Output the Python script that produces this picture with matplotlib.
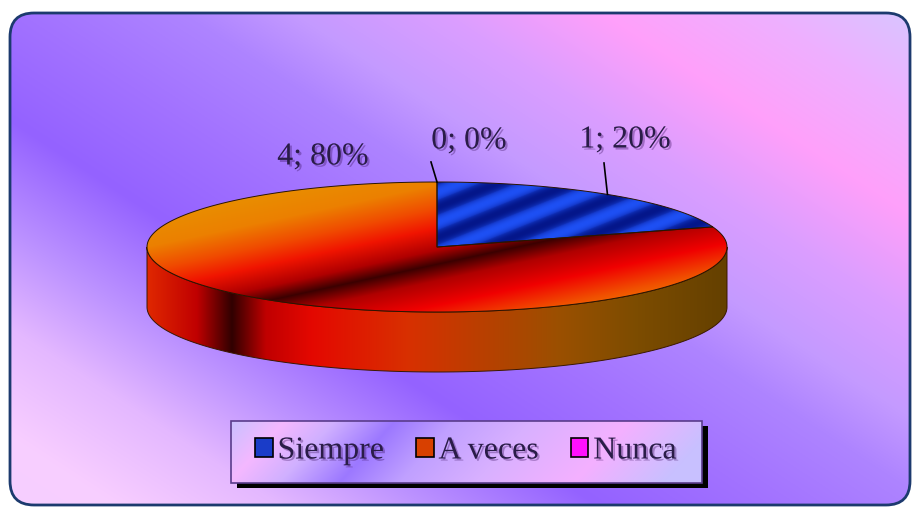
import numpy as np
import matplotlib
matplotlib.use("Agg")
import matplotlib.pyplot as plt
from matplotlib.patches import FancyBboxPatch, Polygon, Rectangle, Patch
import matplotlib.colors as mcolors
import matplotlib.patheffects as pe

# data
categories = ["Siempre", "A veces", "Nunca"]
values = [1, 4, 0]
legend_colors = ["#1a3cc8", "#d84000", "#ff10ff"]

W, H = 915, 509                                    # canvas in pixels
cx, cy, rx, ry, depth = 437, 247, 290, 65, 60      # pie ellipse geometry
serif = ["Liberation Serif", "DejaVu Serif"]

X, Y = np.meshgrid(np.arange(W) + 0.5, np.arange(H) + 0.5)

def gradient(s, stops):
    pos = [p for p, c in stops]
    cols = np.array([mcolors.to_rgb(c) for p, c in stops])
    img = np.zeros(s.shape + (3,))
    for k in range(3):
        img[..., k] = np.interp(s, pos, cols[:, k])
    return img

def fill_image(ax, img, verts=None, patch=None, z=1):
    if patch is None:
        patch = Polygon(verts, closed=True)
    patch.set_transform(ax.transData)
    im = ax.imshow(img, extent=(0, W, H, 0), aspect="auto", interpolation="bilinear", zorder=z)
    im.set_clip_path(patch)
    return im

def ellipse_pts(t0, t1, dy=0, n=200):
    t = np.radians(np.linspace(t0, t1, n))
    return np.column_stack([cx + rx * np.cos(t), cy - ry * np.sin(t) + dy])

fig = plt.figure(figsize=(W / 100, H / 100), dpi=100)
ax = fig.add_axes([0, 0, 1, 1])
ax.set_xlim(0, W)
ax.set_ylim(H, 0)
ax.axis("off")

# background with rounded border, diagonal colour bands
box = FancyBboxPatch((10, 13), 900, 492, boxstyle="round,pad=0,rounding_size=24")
d = -0.55 * X + 0.84 * Y
bg = gradient(d, [(-500, "#d6c8ff"), (-410, "#eeb0ff"), (-320, "#ffa0fa"), (-235, "#dc9eff"),
                  (-150, "#c49aff"), (-90, "#ae84ff"), (0, "#a272ff"), (95, "#9462ff"),
                  (190, "#bc92ff"), (270, "#e4b8ff"), (360, "#f8ceff"), (460, "#f4d0ff")])
fill_image(ax, bg, patch=box, z=0)
ax.add_patch(FancyBboxPatch((10, 13), 900, 492, boxstyle="round,pad=0,rounding_size=24",
                            fc="none", ec="#1c3a6e", lw=2, zorder=0.5))

# slice angles, clockwise from 12 o'clock
total = float(sum(values))
angles = []
a = 90.0
for v in values:
    angles.append((a - 360 * v / total, a))
    a = a - 360 * v / total

# side of the pie (front half only)
side_img = gradient(X, [(147, "#e02800"), (197, "#c00000"), (232, "#300000"), (266, "#c00000"),
                        (312, "#e40800"), (408, "#d83000"), (485, "#b84000"), (561, "#9a5000"),
                        (638, "#7c4c00"), (727, "#644000")])
for i, (t1, t0) in enumerate(angles):
    for shift in (-360, 0, 360):
        lo = max(t1 + shift, 180)
        hi = min(t0 + shift, 360)
        if hi > lo:
            top = ellipse_pts(lo, hi)
            bot = ellipse_pts(hi, lo, dy=depth)
            verts = np.vstack([top, bot])
            fill_image(ax, side_img, verts=verts, z=2)
            ax.add_patch(Polygon(verts, closed=True, fc="none", ec="#3a1800", lw=0.7, zorder=2.5))

# top surfaces
s_fire = 0.21 * X + 0.977 * Y
fire = gradient(s_fire, [(240, "#e89000"), (272, "#ec8000"), (295, "#f04c00"), (315, "#f01400"),
                         (336, "#b00000"), (350, "#3c0000"), (366, "#b00000"), (390, "#f00000"),
                         (415, "#f05000"), (440, "#f09000")])
s_blue = Y + 0.4 * X
v = np.sin(2 * np.pi * s_blue / 30.0)
v = 0.5 + 0.5 * np.sign(v) * np.abs(v) ** 0.7
dark = np.array(mcolors.to_rgb("#04168a"))
bright = np.array(mcolors.to_rgb("#1e50f4"))
stripes = dark + (bright - dark) * v[..., None]
nunca = np.ones((H, W, 3)) * np.array(mcolors.to_rgb("#ff10ff"))
top_imgs = [stripes, fire, nunca]

for i, (t1, t0) in enumerate(angles):
    if t0 - t1 <= 0:
        continue
    verts = np.vstack([[cx, cy], ellipse_pts(t0, t1)])
    fill_image(ax, top_imgs[i], verts=verts, z=3)
    ax.add_patch(Polygon(verts, closed=True, fc="none", ec="#2a1400", lw=0.7, zorder=3.5))

# data labels
label_xy = [(625, 140), (323, 157), (469, 141)]
leader_top = [(604, 163), None, (431, 162)]
shadow = [pe.withSimplePatchShadow(offset=(1.5, -1.5), shadow_rgbFace="#3a1060", alpha=0.35)]
for i, val in enumerate(values):
    pct = 100 * val / total
    ax.text(label_xy[i][0], label_xy[i][1], f"{val}; {pct:.0f}%", ha="center", va="center",
            fontsize=23, family=serif, color="#2a1c48", zorder=5, path_effects=shadow)
    if leader_top[i] is not None:
        t1, t0 = angles[i]
        mid = np.radians((t0 + t1) / 2)
        px, py = cx + rx * np.cos(mid), cy - ry * np.sin(mid)
        ax.plot([leader_top[i][0], px], [leader_top[i][1], py], color="black", lw=1.2, zorder=5)

# legend box with shadow
ax.add_patch(Rectangle((237, 426), 471, 62, fc="black", ec="none", zorder=6))
leg_box = Rectangle((231, 421), 471, 62)
leg_img = gradient(X + 0.9 * (Y - 421), [(231, "#c8c0ff"), (285, "#f4b8ff"), (335, "#d0b0ff"),
                                          (395, "#9c78ff"), (455, "#c0a0ff"), (530, "#d8b0ff"),
                                          (630, "#f4b0ff"), (720, "#c8c0ff")])
fill_image(ax, leg_img, patch=leg_box, z=6.2)
ax.add_patch(Rectangle((231, 421), 471, 62, fc="none", ec="#5a3c8c", lw=1.2, zorder=6.4))

handles = [Patch(facecolor=c, edgecolor="black", lw=1.2) for c in legend_colors]
leg = ax.legend(handles, categories, loc="center", bbox_to_anchor=(466 / W, 1 - 451 / H),
                ncol=3, frameon=False, prop={"family": serif, "size": 23},
                handlelength=0.55, handleheight=0.55, handletextpad=0.15, columnspacing=1.0)
leg.set_zorder(7)
for t in leg.get_texts():
    t.set_color("#2a1c48")
    t.set_path_effects(shadow)

fig.savefig("out.png", dpi=100)
